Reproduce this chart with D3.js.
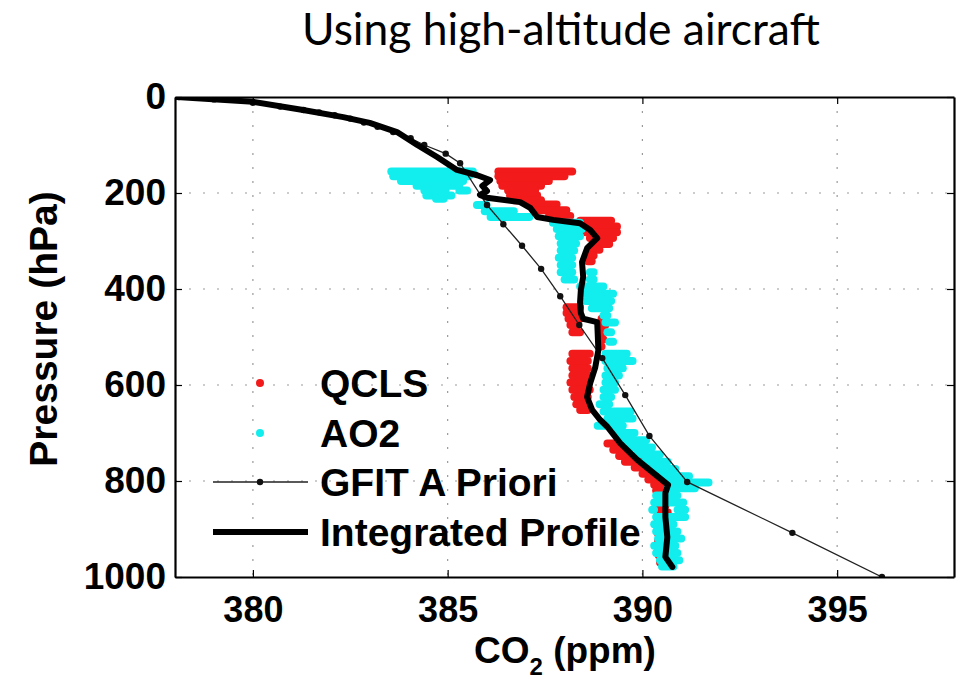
<!DOCTYPE html>
<html>
<head>
<meta charset="utf-8">
<script src="https://cdn.jsdelivr.net/npm/d3@7"></script>
<style>
  body { margin: 0; background: #fff; }
</style>
</head>
<body>
<div id="chart"></div>
<script>
// дані
const xTicks = [380, 385, 390, 395];
const yTicks = [0, 200, 400, 600, 800, 1000];
const gridY = [200, 400, 600, 800];

// QCLS / AO2: густі хмари точок -> горизонтальні смуги [тиск, від, до]
const qclsRuns = [
  [155, 386.2, 388.3], [165, 386.2, 388.1], [175, 386.25, 387.7], [185, 386.3, 387.5],
  [195, 386.45, 387.35], [205, 386.5, 387.4], [215, 386.6, 387.5], [224, 387.0, 387.9],
  [236, 387.2, 388.15], [248, 387.5, 388.25], [258, 388.3, 389.3], [270, 388.35, 389.45],
  [282, 388.45, 389.45], [294, 388.55, 389.35], [306, 388.65, 389.25], [318, 388.55, 389.0],
  [330, 388.5, 388.85], [342, 388.5, 388.8],
  [438, 387.95, 388.5], [450, 387.95, 388.45], [462, 388.0, 388.5], [462, 388.85, 389.15],
  [475, 388.05, 388.45], [475, 388.85, 389.15], [490, 388.1, 388.5], [490, 388.85, 389.1],
  [505, 388.85, 389.1], [520, 388.85, 389.05],
  [535, 388.1, 388.75], [550, 388.05, 388.7], [565, 388.1, 388.7], [580, 388.1, 388.75],
  [595, 388.05, 388.7], [610, 388.1, 388.75], [625, 388.15, 388.7], [640, 388.2, 388.7],
  [652, 388.3, 388.7],
  [722, 389.0, 389.5], [735, 389.15, 389.7], [748, 389.3, 389.95], [760, 389.45, 390.15],
  [772, 389.7, 390.45], [785, 389.9, 390.7], [797, 390.05, 390.85], [808, 390.2, 390.95],
  [820, 390.25, 390.85], [835, 390.3, 390.75], [850, 390.3, 390.7], [865, 390.3, 390.75],
  [880, 390.3, 390.7], [895, 390.28, 390.7], [910, 390.3, 390.75], [925, 390.3, 390.7],
  [940, 390.3, 390.65], [955, 390.32, 390.7], [970, 390.35, 390.72]
];

const ao2Runs = [
  [155, 383.45, 385.75], [165, 383.5, 385.65], [175, 383.7, 385.5], [185, 384.1, 385.4],
  [195, 384.3, 385.05], [195, 385.2, 385.6], [205, 384.35, 385.2], [212, 384.6, 385.0],
  [225, 385.65, 386.1], [238, 385.85, 386.8], [250, 386.0, 387.2],
  [262, 387.6, 388.5], [275, 387.7, 388.55], [290, 387.75, 388.5], [305, 387.8, 388.4],
  [320, 387.8, 388.35], [335, 387.75, 388.3], [350, 387.8, 388.3],
  [365, 387.8, 388.3], [365, 388.55, 388.85], [380, 387.9, 388.35], [380, 388.55, 388.85],
  [395, 388.3, 389.1], [410, 388.4, 389.35], [425, 388.45, 389.3], [440, 388.6, 389.25],
  [455, 388.9, 389.2], [470, 388.95, 389.4], [490, 389.0, 389.3], [510, 389.05, 389.35],
  [535, 388.95, 389.7], [550, 388.95, 389.85], [565, 389.0, 389.6], [580, 388.95, 389.5],
  [595, 388.95, 389.4], [610, 388.9, 389.4], [625, 388.9, 389.3], [640, 388.8, 389.25],
  [655, 388.9, 389.8], [670, 389.0, 389.85], [685, 388.75, 389.6], [700, 389.2, 389.9],
  [715, 389.35, 390.2], [730, 389.55, 390.35], [745, 389.75, 390.55], [760, 389.95, 390.75],
  [775, 390.15, 390.95], [790, 390.4, 391.3], [803, 390.6, 391.8], [815, 390.55, 391.45],
  [830, 390.25, 391.0], [845, 390.2, 391.15], [860, 390.15, 390.4], [860, 390.8, 391.2],
  [875, 390.25, 391.2], [890, 390.2, 390.9], [905, 390.25, 391.0], [920, 390.3, 391.1],
  [935, 390.2, 390.95], [950, 390.25, 391.0], [965, 390.35, 391.05], [978, 390.4, 390.9]
];

// GFIT a priori: [тиск, ppm]
const aprioriPts = [
  [0, 378.1], [5, 379.0], [12, 380.0], [20, 380.7], [27, 381.3], [32, 381.7], [38, 382.1],
  [45, 382.5], [53, 382.85], [62, 383.2], [73, 383.6], [86, 384.05], [100, 384.4],
  [118, 384.95], [138, 385.32], [225, 386.01], [265, 386.43], [310, 386.91], [358, 387.40],
  [415, 387.89], [475, 388.38], [544, 388.97], [621, 389.56], [706, 390.18], [802, 391.15],
  [908, 393.85], [1000, 396.15]
];

// інтегрований профіль: [тиск, ppm]
const profilePts = [
  [0, 378.05], [10, 380.0], [27, 381.29], [42, 382.32], [54, 383.0], [73, 383.7],
  [100, 384.22], [125, 384.73], [152, 385.24], [163, 385.76], [173, 386.09], [185, 385.89],
  [196, 386.01], [204, 385.83], [210, 386.01], [219, 386.86], [231, 387.12], [250, 387.3],
  [256, 387.71], [263, 388.4], [277, 388.66], [294, 388.84], [315, 388.58], [344, 388.45],
  [375, 388.48], [402, 388.42], [427, 388.4], [450, 388.42], [462, 388.48], [469, 388.84],
  [527, 388.87], [563, 388.79], [596, 388.66], [625, 388.58], [652, 388.71], [673, 388.92],
  [687, 389.1], [721, 389.43], [756, 389.87], [783, 390.28], [808, 390.66], [825, 390.59],
  [875, 390.59], [917, 390.64], [958, 390.59], [979, 390.77]
];

const legendItems = ["QCLS", "AO2", "GFIT A Priori", "Integrated Profile"];

const width = 956;
const height = 681;
const plot = { left: 175, right: 954, top: 97, bottom: 577 };

const colors = {
  qcls: "#f21a1a",
  ao2: "#12eeee",
  line: "#000",
  grid: "#9a9a9a"
};

const font = "'Liberation Sans', Arial, Helvetica, sans-serif";

const svg = d3.select("#chart").append("svg")
  .attr("width", width)
  .attr("height", height)
  .style("display", "block")
  .style("background", "white")
  .style("font-family", font);

const x = d3.scaleLinear().domain([378, 398]).range([plot.left, plot.right]);
const y = d3.scaleLinear().domain([0, 1000]).range([plot.top, plot.bottom]);

// заголовок
const title = svg.append("text")
  .attr("x", 561).attr("y", 45)
  .attr("text-anchor", "middle")
  .style("font-family", "Lato, 'Open Sans', sans-serif")
  .style("font-size", "38px")
  .style("fill", "#000")
  .text("Using high-altitude aircraft");
const tw = title.node().getComputedTextLength();
title.style("font-size", (38 * 518 / tw).toFixed(2) + "px");

// сітка
const grid = svg.append("g")
  .attr("stroke", colors.grid)
  .attr("stroke-width", 1.2)
  .attr("stroke-dasharray", "2,12");

grid.selectAll(".gx").data(xTicks).join("line")
  .attr("x1", d => x(d)).attr("x2", d => x(d))
  .attr("y1", plot.top).attr("y2", plot.bottom);

grid.selectAll(".gy").data(gridY).join("line")
  .attr("y1", d => y(d)).attr("y2", d => y(d))
  .attr("x1", plot.left).attr("x2", plot.right);

svg.append("clipPath").attr("id", "clip")
  .append("rect")
  .attr("x", plot.left).attr("y", plot.top)
  .attr("width", plot.right - plot.left).attr("height", plot.bottom - plot.top);

const chartArea = svg.append("g").attr("clip-path", "url(#clip)");

const runW = 8;
function drawRuns(runs, color) {
  chartArea.append("g")
    .selectAll("line")
    .data(runs)
    .join("line")
    .attr("x1", d => Math.min(x(d[1]) + runW / 2, (x(d[1]) + x(d[2])) / 2))
    .attr("x2", d => Math.max(x(d[2]) - runW / 2, (x(d[1]) + x(d[2])) / 2))
    .attr("y1", d => y(d[0]))
    .attr("y2", d => y(d[0]))
    .attr("stroke", color)
    .attr("stroke-width", runW)
    .attr("stroke-linecap", "round");
}

drawRuns(qclsRuns, colors.qcls);
drawRuns(ao2Runs, colors.ao2);

// a priori
const line = d3.line().x(d => x(d[1])).y(d => y(d[0]));

chartArea.append("path")
  .datum(aprioriPts)
  .attr("d", line)
  .attr("fill", "none")
  .attr("stroke", "#222")
  .attr("stroke-width", 1.3);

chartArea.append("g")
  .selectAll("circle")
  .data(aprioriPts)
  .join("circle")
  .attr("cx", d => x(d[1]))
  .attr("cy", d => y(d[0]))
  .attr("r", 3.2)
  .attr("fill", "#111");

// інтегрований профіль
chartArea.append("path")
  .datum(profilePts)
  .attr("d", line)
  .attr("fill", "none")
  .attr("stroke", colors.line)
  .attr("stroke-width", 6)
  .attr("stroke-linejoin", "round")
  .attr("stroke-linecap", "round");

// осі (рамка як у MATLAB, тики всередину)
const tickFont = "36px";

const axB = svg.append("g")
  .attr("transform", `translate(0,${plot.bottom})`)
  .call(d3.axisBottom(x).tickValues(xTicks).tickSize(-7).tickSizeOuter(0).tickPadding(19));
const axT = svg.append("g")
  .attr("transform", `translate(0,${plot.top})`)
  .call(d3.axisTop(x).tickValues(xTicks).tickSize(-7).tickSizeOuter(0).tickFormat(""));
const axL = svg.append("g")
  .attr("transform", `translate(${plot.left},0)`)
  .call(d3.axisLeft(y).tickValues(yTicks).tickSize(-7).tickSizeOuter(0)
    .tickPadding(9).tickFormat(d3.format("d")));
const axR = svg.append("g")
  .attr("transform", `translate(${plot.right},0)`)
  .call(d3.axisRight(y).tickValues(yTicks).tickSize(-7).tickSizeOuter(0).tickFormat(""));

[axB, axT, axL, axR].forEach(a => {
  a.select(".domain").attr("stroke", "#000").attr("stroke-width", 2.2);
  a.selectAll(".tick line").attr("stroke", "#000").attr("stroke-width", 1.2);
  a.selectAll("text")
    .style("font-family", font)
    .style("font-size", tickFont)
    .style("font-weight", "bold")
    .attr("fill", "#000");
});
axL.selectAll("text").style("font-size", "37px");

// підписи осей
svg.append("text")
  .attr("transform", "translate(43,329) rotate(-90)")
  .attr("text-anchor", "middle")
  .attr("dy", "0.36em")
  .style("font-size", "39px").style("font-weight", "bold")
  .text("Pressure (hPa)");

const xl = svg.append("text")
  .attr("x", 565).attr("y", 663)
  .attr("text-anchor", "middle")
  .style("font-size", "37px").style("font-weight", "bold");
xl.append("tspan").text("CO");
xl.append("tspan").attr("dy", 12).style("font-size", "24px").text("2");
xl.append("tspan").attr("dy", -12).text(" (ppm)");

// легенда
const legend = svg.append("g");
const rowY = [383, 433, 482, 532];

legend.selectAll("text")
  .data(legendItems)
  .join("text")
  .attr("x", 320)
  .attr("y", (d, i) => rowY[i])
  .attr("dy", "0.36em")
  .style("font-size", "39px").style("font-weight", "bold")
  .text(d => d);

legend.append("circle").attr("cx", 260).attr("cy", rowY[0]).attr("r", 4).attr("fill", colors.qcls);
legend.append("circle").attr("cx", 260).attr("cy", rowY[1]).attr("r", 4).attr("fill", colors.ao2);
legend.append("line")
  .attr("x1", 213).attr("x2", 308).attr("y1", rowY[2]).attr("y2", rowY[2])
  .attr("stroke", "#222").attr("stroke-width", 1.3);
legend.append("circle").attr("cx", 260).attr("cy", rowY[2]).attr("r", 3.2).attr("fill", "#111");
legend.append("line")
  .attr("x1", 213).attr("x2", 308).attr("y1", rowY[3]).attr("y2", rowY[3])
  .attr("stroke", "#000").attr("stroke-width", 6);
</script>
</body>
</html>
